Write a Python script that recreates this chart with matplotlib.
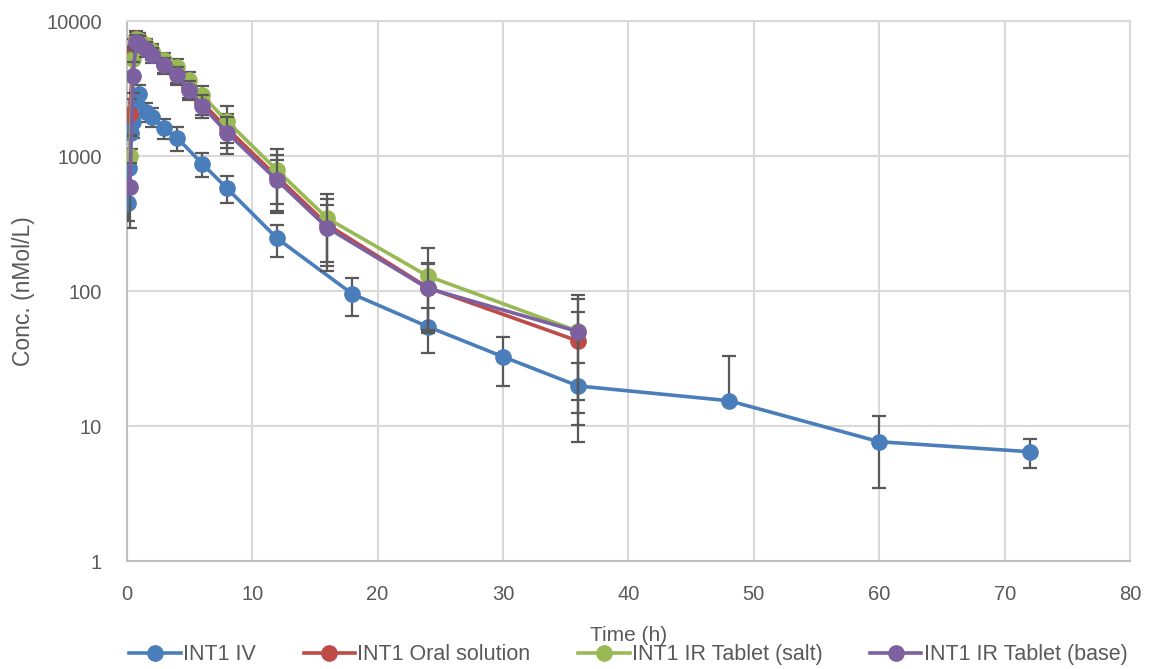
import matplotlib.pyplot as plt
from matplotlib.ticker import FixedLocator, FixedFormatter, NullLocator

plt.rcParams['font.family'] = ['Liberation Sans', 'DejaVu Sans']

# Время (ч) и концентрации
t_iv = [0.083, 0.167, 0.333, 0.5, 0.75, 1, 1.5, 2, 3, 4, 6, 8, 12, 18, 24, 30, 36, 48, 60, 72]
iv = [450, 810, 1470, 1800, 2500, 2900, 2130, 1955, 1600, 1370, 880, 576, 245, 95, 54.5, 32.6, 19.8, 15.4, 7.65, 6.45]
iv_sd = [120, 200, 350, 450, 500, 450, 350, 320, 270, 280, 180, 130, 65, 30, 20, 12.7, 9.6, 17.6, 4.2, 1.6]

t_po = [0.25, 0.5, 0.75, 1, 1.5, 2, 3, 4, 5, 6, 8, 12, 16, 24, 36]
oral = [2040, 6100, 7500, 7300, 6500, 5800, 4800, 4100, 3250, 2500, 1600, 700, 310, 106, 42.6]
oral_sd = [600, 1200, 900, 900, 800, 700, 650, 600, 550, 500, 450, 320, 170, 55, 27]
salt = [1000, 5240, 7400, 7200, 6600, 6000, 5100, 4590, 3655, 2830, 1807, 783, 345, 129, 50.3]
salt_sd = [400, 1100, 900, 900, 800, 700, 650, 650, 550, 450, 550, 340, 182, 80, 42.7]
base = [593, 3935, 7000, 6800, 6200, 5600, 4700, 3980, 3080, 2360, 1490, 660, 294, 104.7, 50]
base_sd = [300, 1000, 900, 900, 800, 700, 650, 600, 500, 450, 450, 270, 140, 55, 37.5]

labels = ["INT1 IV", "INT1 Oral solution", "INT1 IR Tablet (salt)", "INT1 IR Tablet (base)"]
colors = ["#4a7ebb", "#be4b48", "#98b954", "#7d60a0"]

y_ticks = [1, 10, 100, 1000, 10000]
x_ticks = [0, 10, 20, 30, 40, 50, 60, 70, 80]

fig = plt.figure(figsize=(11.52, 6.69), dpi=100)
ax = fig.add_axes([0.110, 0.1614, 0.871, 0.8072])

series = [(t_iv, iv, iv_sd), (t_po, oral, oral_sd), (t_po, salt, salt_sd), (t_po, base, base_sd)]
handles = []
for i, (t, y, sd) in enumerate(series):
    # на лог. шкале нижний ус не рисуется, если значение - SD <= 0
    lower = [s if v - s > 0 else 0 for v, s in zip(y, sd)]
    eb = ax.errorbar(t, y, yerr=[lower, sd], color=colors[i], ecolor="#595959", elinewidth=1.6,
                     capsize=5, capthick=1.6, linewidth=2.6, marker="o", markersize=11,
                     label=labels[i], zorder=3 + i)
    handles.append(eb.lines[0])

ax.set_yscale("log")
ax.set_ylim(1, 10000)
ax.set_xlim(0, 80)
ax.yaxis.set_major_locator(FixedLocator(y_ticks))
ax.yaxis.set_major_formatter(FixedFormatter([str(v) for v in y_ticks]))
ax.yaxis.set_minor_locator(NullLocator())
ax.set_xticks(x_ticks)
ax.tick_params(length=0, labelsize=14.5, colors="#595959")
ax.tick_params(axis="y", pad=18)
ax.tick_params(axis="x", pad=17)
ax.grid(True, color="#d9d9d9", linewidth=1.5)
ax.set_axisbelow(True)
for s in ax.spines.values():
    s.set_color("#d9d9d9")
    s.set_linewidth(1.5)
ax.spines["left"].set_color("#bfbfbf")
ax.spines["bottom"].set_color("#bfbfbf")

ax.set_xlabel("Time (h)", fontsize=15, color="#595959", labelpad=16)
ax.set_ylabel("Conc. (nMol/L)", fontsize=16.5, color="#595959", labelpad=8)

ax.legend(handles, labels, loc="center", bbox_to_anchor=(0.5, -0.174), ncol=4, frameon=False,
          fontsize=15.5, handlelength=2.4, columnspacing=2.2, handletextpad=0.1,
          labelcolor="#595959", borderpad=0.1)

plt.savefig("out.png", dpi=100)
